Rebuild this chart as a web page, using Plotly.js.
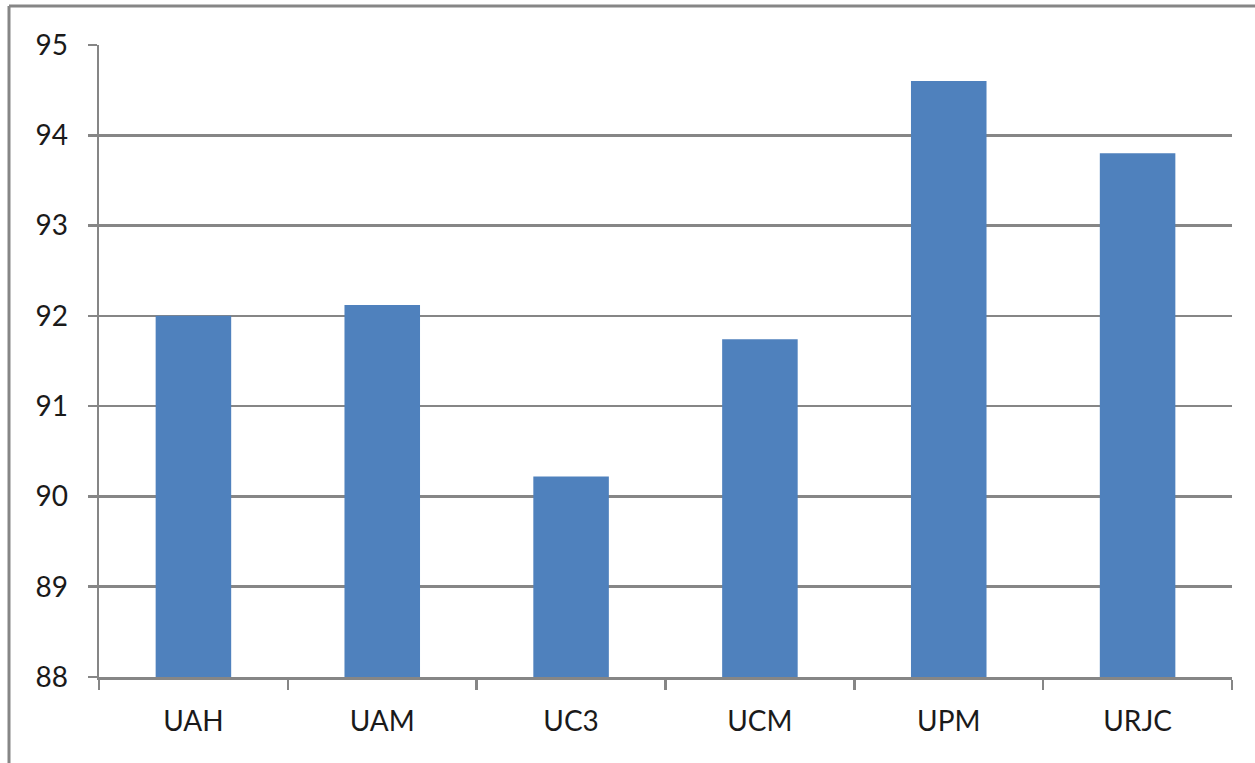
<!DOCTYPE html>
<html>
<head>
<meta charset="utf-8">
<script src="https://cdn.plot.ly/plotly-3.0.1.min.js"></script>
<style>
html,body{margin:0;padding:0;background:#fff;}
#chart{width:1255px;height:763px;}
</style>
</head>
<body>
<div id="chart"></div>
<script>
var categories = ["UAH", "UAM", "UC3", "UCM", "UPM", "URJC"];
var values = [92.0, 92.12, 90.22, 91.74, 94.6, 93.8];
var yTicks = [88, 89, 90, 91, 92, 93, 94, 95];

var gray = "#868686";
var fontFam = "Lato, 'Open Sans', 'Liberation Sans', sans-serif";

var trace = {
  type: "bar",
  x: categories,
  y: values,
  marker: {color: "#4F81BD", line: {width: 0}},
  hoverinfo: "x+y"
};

var layout = {
  width: 1255,
  height: 763,
  margin: {l: 99, r: 23, t: 45, b: 86},
  paper_bgcolor: "#fff",
  plot_bgcolor: "#fff",
  showlegend: false,
  bargap: 0.6,
  font: {family: fontFam, size: 28, color: "#1a1a1a"},
  xaxis: {
    type: "category",
    showgrid: false,
    showline: true,
    linecolor: gray,
    linewidth: 2.5,
    ticks: "outside",
    tickson: "boundaries",
    ticklen: 10,
    tickwidth: 2.5,
    tickcolor: gray,
    ticklabelstandoff: 18,
    tickfont: {family: fontFam, size: 28, color: "#1a1a1a"},
    zeroline: false
  },
  yaxis: {
    range: [88, 95],
    tickmode: "array",
    tickvals: yTicks,
    ticktext: yTicks.map(String),
    showgrid: true,
    gridcolor: gray,
    gridwidth: 2.5,
    showline: true,
    linecolor: gray,
    linewidth: 2.5,
    ticks: "outside",
    ticklen: 9,
    tickwidth: 2.5,
    tickcolor: gray,
    ticklabelstandoff: 14,
    tickfont: {family: fontFam, size: 28, color: "#1a1a1a"},
    zeroline: false
  },
  shapes: [
    {type: "line", xref: "paper", yref: "paper",
     x0: (9 - 99) / 1133, x1: 1.2, y0: 1 + (45 - 6) / 632, y1: 1 + (45 - 6) / 632,
     line: {color: gray, width: 3}},
    {type: "line", xref: "paper", yref: "paper",
     x0: (9 - 99) / 1133, x1: (9 - 99) / 1133, y0: 1 + (45 - 6) / 632, y1: -0.3,
     line: {color: gray, width: 3}}
  ]
};

Plotly.newPlot("chart", [trace], layout, {displayModeBar: false, staticPlot: true});
</script>
</body>
</html>
